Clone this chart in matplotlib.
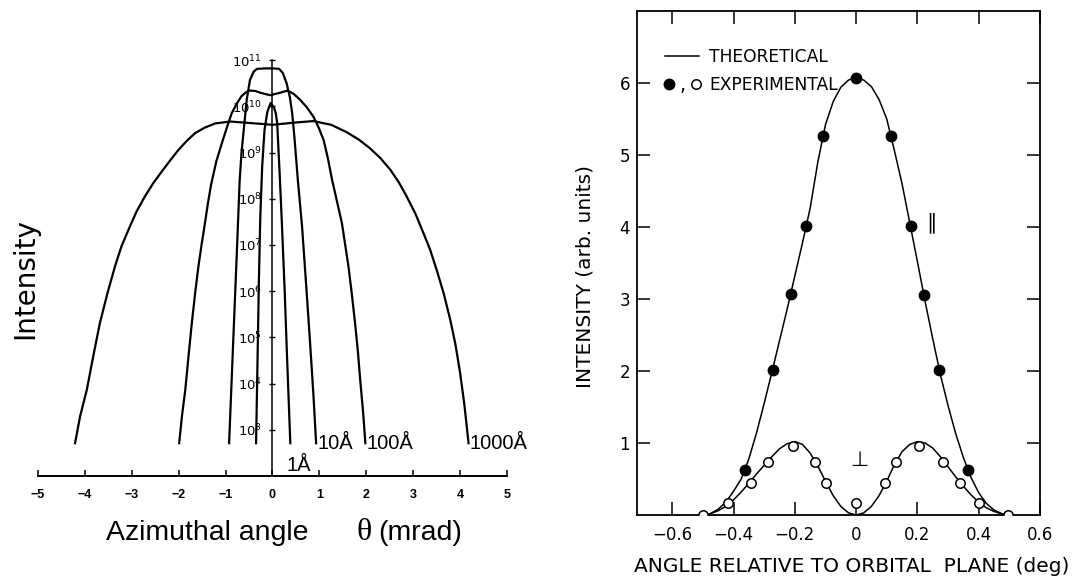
import numpy as np
import matplotlib
matplotlib.use('Agg')
import matplotlib.pyplot as plt
from matplotlib.lines import Line2D
from matplotlib.legend_handler import HandlerTuple
from matplotlib.ticker import NullLocator

# ---- left panel: angular distributions, log10(intensity) vs theta (mrad)
x_1A = [-0.35, -0.32, -0.29, -0.26, -0.22, -0.17, -0.11, -0.04, 0.03, 0.07, 0.10, 0.15, 0.20, 0.26, 0.31, 0.38]
logI_1A = [2.71, 4.46, 6.24, 7.61, 8.70, 9.49, 9.88, 10.07, 9.98, 9.85, 9.63, 8.6, 7.47, 6.0, 4.58, 2.71]

x_10A = [-0.925, -0.87, -0.81, -0.75, -0.70, -0.66, -0.62, -0.55, -0.48, -0.40, -0.33, -0.15, 0.0,
         0.14, 0.22, 0.30, 0.37, 0.42, 0.47, 0.54, 0.63, 0.72, 0.80, 0.87, 0.93]
logI_10A = [2.71, 4.1, 5.6, 7.1, 8.40, 9.0, 9.42, 10.14, 10.57, 10.75, 10.81, 10.82, 10.82,
            10.81, 10.72, 10.50, 10.2, 9.85, 9.3, 8.41, 7.4, 6.1, 4.9, 3.8, 2.71]

x_100A = [-1.99, -1.93, -1.86, -1.79, -1.72, -1.65, -1.58, -1.51, -1.44, -1.38, -1.31, -1.2, -1.08,
          -0.97, -0.87, -0.76, -0.66, -0.57, -0.48, -0.36, -0.25, -0.05, 0.15, 0.32, 0.45, 0.59,
          0.73, 0.87, 0.98, 1.09, 1.18, 1.27, 1.38, 1.48, 1.55, 1.62, 1.69, 1.76, 1.82, 1.87,
          1.93, 1.98]
logI_100A = [2.71, 3.3, 3.86, 4.6, 5.31, 5.95, 6.53, 7.02, 7.47, 7.88, 8.30, 8.80, 9.2,
             9.55, 9.85, 10.06, 10.22, 10.30, 10.34, 10.33, 10.29, 10.24, 10.29, 10.34, 10.27, 10.14,
             9.98, 9.78, 9.55, 9.27, 8.88, 8.41, 7.92, 7.47, 7.0, 6.53, 5.95, 5.31, 4.7, 4.08,
             3.4, 2.71]

x_1000A = [-4.21, -4.1, -3.96, -3.82, -3.68, -3.52, -3.36, -3.22, -3.07, -2.9, -2.72, -2.54, -2.36,
           -2.18, -2.01, -1.83, -1.65, -1.44, -1.22, -0.9, -0.5, 0.0, 0.5, 0.87, 1.25, 1.58, 1.84,
           2.08, 2.3, 2.51, 2.69, 2.86, 3.05, 3.22, 3.36, 3.50, 3.65, 3.79, 3.9, 4.0, 4.09, 4.18]
logI_1000A = [2.71, 3.3, 3.86, 4.6, 5.31, 5.95, 6.53, 6.97, 7.33, 7.72, 8.05, 8.34, 8.59,
              8.83, 9.05, 9.25, 9.42, 9.54, 9.63, 9.67, 9.64, 9.6, 9.65, 9.68, 9.6, 9.44, 9.28,
              9.09, 8.88, 8.63, 8.36, 8.05, 7.67, 7.25, 6.9, 6.46, 5.95, 5.38, 4.85, 4.23, 3.55, 2.71]

curve_names = ['1Å', '10Å', '100Å', '1000Å']
decades = [3, 4, 5, 6, 7, 8, 9, 10, 11]
theta_ticks = [-5, -4, -3, -2, -1, 0, 1, 2, 3, 4, 5]

# ---- right panel: intensity vs angle to orbital plane (deg)
par_theory_x = [-0.485, -0.475, -0.45, -0.425, -0.4, -0.375, -0.35, -0.325, -0.3, -0.275, -0.25,
                -0.225, -0.2, -0.175, -0.15, -0.125, -0.1, -0.075, -0.05, -0.025, 0.0,
                0.025, 0.05, 0.075, 0.1, 0.125, 0.15, 0.175, 0.2, 0.225, 0.25, 0.275, 0.3,
                0.325, 0.35, 0.375, 0.4, 0.425, 0.45, 0.475, 0.49]
par_theory_y = [0.0, 0.02, 0.08, 0.18, 0.33, 0.50, 0.78, 1.14, 1.55, 1.98, 2.42,
                2.86, 3.32, 3.78, 4.26, 4.90, 5.42, 5.74, 5.94, 6.04, 6.08,
                6.04, 5.95, 5.77, 5.50, 5.06, 4.60, 4.06, 3.52, 2.97, 2.45, 1.95, 1.52,
                1.13, 0.80, 0.52, 0.31, 0.16, 0.07, 0.02, 0.0]

perp_theory_x = [-0.5, -0.475, -0.45, -0.425, -0.4, -0.375, -0.35, -0.325, -0.3, -0.275, -0.25,
                 -0.225, -0.2, -0.175, -0.15, -0.125, -0.1, -0.075, -0.05, -0.025, 0.0,
                 0.025, 0.05, 0.075, 0.1, 0.125, 0.15, 0.175, 0.2, 0.225, 0.25, 0.275, 0.3,
                 0.325, 0.35, 0.375, 0.4, 0.425, 0.45, 0.475, 0.5]
perp_theory_y = [0.0, 0.02, 0.06, 0.12, 0.21, 0.32, 0.44, 0.57, 0.69, 0.81, 0.92,
                 0.99, 1.02, 0.98, 0.86, 0.68, 0.47, 0.27, 0.12, 0.03, 0.0,
                 0.03, 0.12, 0.27, 0.47, 0.70, 0.88, 0.98, 1.02, 1.00, 0.93, 0.81, 0.67,
                 0.53, 0.40, 0.28, 0.18, 0.10, 0.05, 0.015, 0.0]

par_exp_x = [-0.362, -0.272, -0.213, -0.162, -0.109, 0.0, 0.113, 0.178, 0.220, 0.271, 0.364]
par_exp_y = [0.62, 2.02, 3.07, 4.02, 5.27, 6.07, 5.27, 4.02, 3.06, 2.02, 0.63]

perp_exp_x = [-0.499, -0.417, -0.342, -0.288, -0.207, -0.135, -0.098, 0.0,
              0.095, 0.129, 0.204, 0.285, 0.338, 0.400, 0.496]
perp_exp_y = [0.0, 0.17, 0.45, 0.74, 0.96, 0.73, 0.44, 0.17,
              0.45, 0.74, 0.96, 0.73, 0.44, 0.16, 0.0]

angle_ticks = [-0.6, -0.4, -0.2, 0, 0.2, 0.4, 0.6]
angle_labels = ['\u22120.6', '\u22120.4', '\u22120.2', '0', '0.2', '0.4', '0.6']
intensity_ticks = [1, 2, 3, 4, 5, 6]

fig = plt.figure(figsize=(10.85, 5.82), dpi=100)

# ================= left panel =================
ax1 = fig.add_axes([0.035, 0.1821, 0.4323, 0.8179])
curves = [(x_1A, logI_1A), (x_10A, logI_10A), (x_100A, logI_100A), (x_1000A, logI_1000A)]
for (xs, ls), name in zip(curves, curve_names):
    ax1.plot(xs, 10.0 ** np.array(ls), color='black', lw=1.6)
    if name == '1Å':
        ax1.text(xs[-1] - 0.09, 10 ** 2.1, name, ha='left', va='baseline',
                 fontsize=14.5, family='Liberation Sans')
    else:
        ax1.text(xs[-1] + 0.03, 10 ** 2.58, name, ha='left', va='baseline',
                 fontsize=14.5, family='Liberation Sans')

ax1.set_yscale('log')
ax1.set_xlim(-5, 5)
ax1.set_ylim(1e2, 10 ** 12.30)
ax1.spines['top'].set_visible(False)
ax1.spines['right'].set_visible(False)
ax1.spines['left'].set_position(('data', 0))
ax1.spines['left'].set_bounds(1e2, 1e11)
ax1.spines['left'].set_linewidth(1.1)
ax1.spines['bottom'].set_linewidth(1.4)
ax1.set_yticks([10.0 ** d for d in decades])
ax1.yaxis.set_minor_locator(NullLocator())
ax1.set_yticklabels(['$10^{%d}$' % d for d in decades])
ax1.tick_params(axis='y', direction='inout', length=5, width=1.0, pad=5, labelsize=9.5)
ax1.set_xticks(theta_ticks)
ax1.set_xticklabels(['\u2212%d' % -t if t < 0 else '%d' % t for t in theta_ticks])
ax1.tick_params(axis='x', direction='in', length=4, width=1.1, pad=9, labelsize=9)
for lab in ax1.get_xticklabels():
    lab.set_fontweight('bold')
    lab.set_family('Liberation Sans')

xt = ax1.get_xaxis_transform()
ax1.text(-3.55, -0.134, 'Azimuthal angle', transform=xt, ha='left', va='baseline',
         fontsize=20.5, family='Liberation Sans')
ax1.text(1.80, -0.134, '\u03b8', transform=xt, ha='left', va='baseline',
         fontsize=23, family='Liberation Serif')
ax1.text(2.25, -0.134, '(mrad)', transform=xt, ha='left', va='baseline',
         fontsize=20.5, family='Liberation Sans')
fig.text(0.023, 0.522, 'Intensity', rotation=90, ha='center', va='center',
         fontsize=20, family='DejaVu Sans')

# ================= right panel =================
ax2 = fig.add_axes([0.5871, 0.1151, 0.3714, 0.866])
ax2.plot(par_theory_x, par_theory_y, color='black', lw=1.1)
ax2.plot(perp_theory_x, perp_theory_y, color='black', lw=1.1)
ax2.plot(par_exp_x, par_exp_y, 'o', color='black', ms=7.5, zorder=3)
ax2.plot(perp_exp_x, perp_exp_y, 'o', mfc='white', mec='black', mew=1.1, ms=6.8, zorder=3)

ax2.set_xlim(-0.715, 0.6)
ax2.set_ylim(0, 7)
ax2.set_xticks(angle_ticks)
ax2.set_xticklabels(angle_labels)
ax2.set_yticks(intensity_ticks)
ax2.tick_params(direction='in', length=9.5, width=1.1, top=True, right=True, labelsize=12)
ax2.tick_params(axis='x', pad=8)
ax2.tick_params(axis='y', pad=5)
for s in ax2.spines.values():
    s.set_linewidth(1.3)

ax2.set_xlabel('ANGLE RELATIVE TO ORBITAL  PLANE (deg)', fontsize=14.5)
ax2.xaxis.set_label_coords(0.532, -0.083)
ax2.set_ylabel('INTENSITY (arb. units)', fontsize=14.5)
ax2.yaxis.set_label_coords(-0.105, 0.474)

ax2.text(0.245, 4.06, '\u2225', fontsize=15, ha='center', va='center')
ax2.text(0.01, 0.76, '\u22a5', fontsize=15, ha='center', va='center')

theory_handle = Line2D([], [], color='black', lw=1.1)
filled_handle = Line2D([], [], ls='none', marker='o', color='black', ms=7.5)
open_handle = Line2D([], [], ls='none', marker='o', mfc='white', mec='black', mew=1.1, ms=6.8)
leg = ax2.legend([theory_handle, (filled_handle, open_handle)], ['THEORETICAL', 'EXPERIMENTAL'],
                 handler_map={tuple: HandlerTuple(ndivide=None, pad=1.15)},
                 loc='upper left', bbox_to_anchor=(0.0695, 0.927), frameon=False,
                 borderpad=0, borderaxespad=0, handlelength=2.0, handletextpad=0.6,
                 labelspacing=0.6, fontsize=12.3)
ax2.text(0.112, 0.853, ',', transform=ax2.transAxes, fontsize=14, ha='center', va='center')

fig.savefig('out.png', dpi=100)
